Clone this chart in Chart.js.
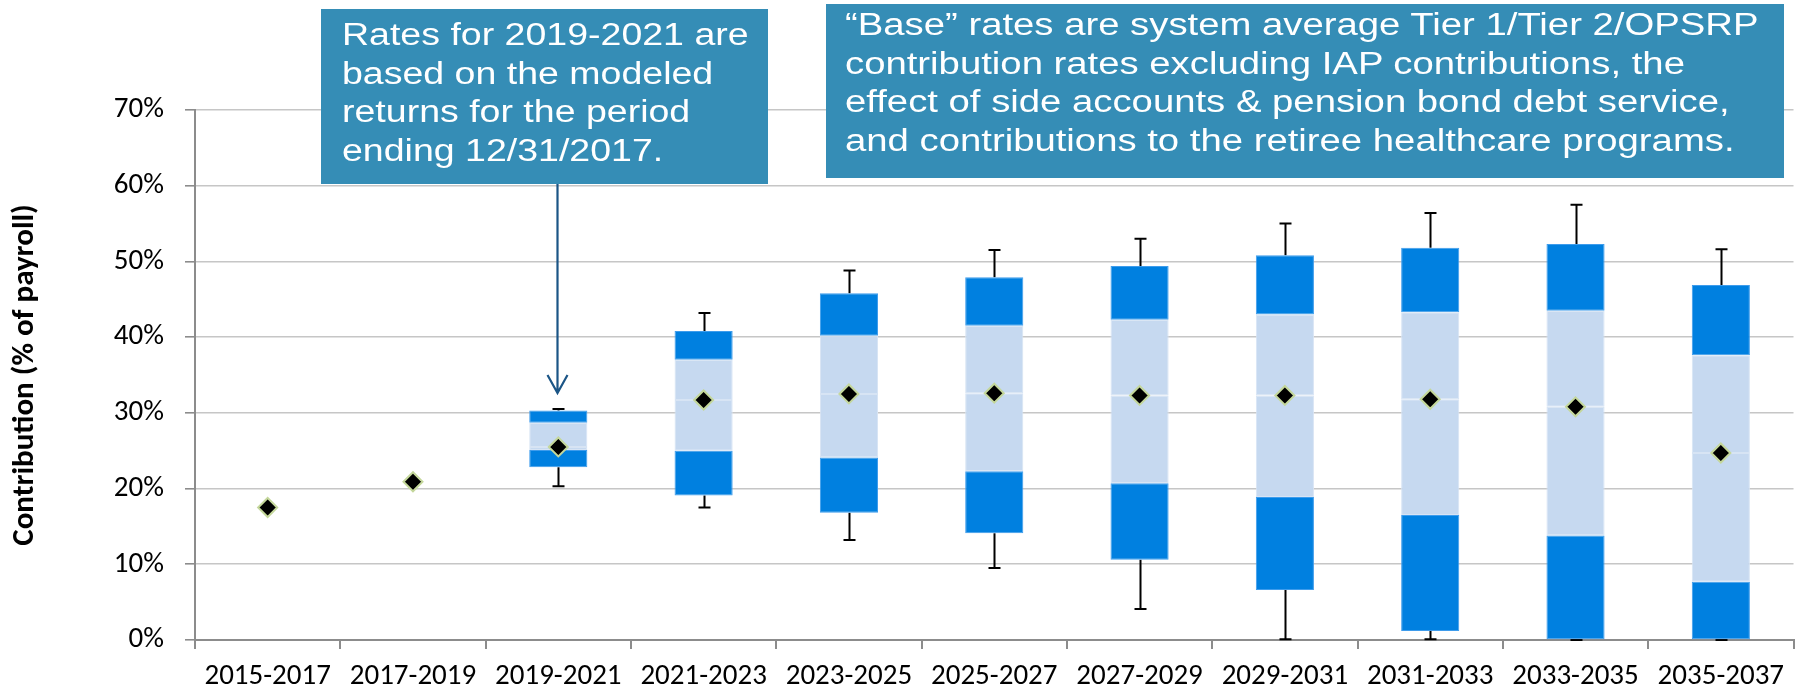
<!DOCTYPE html>
<html>
<head>
<meta charset="utf-8">
<script src="https://cdn.jsdelivr.net/npm/chart.js@4.4.1/dist/chart.umd.min.js"></script>
<style>
html,body{margin:0;padding:0;background:#fff;}
#wrap{position:relative;width:1805px;height:692px;overflow:hidden;background:#fff;}
#c{position:absolute;left:0;top:0;}
.note{position:absolute;background:#358DB6;color:#fff;font-family:"Liberation Sans",Arial,sans-serif;font-size:31px;line-height:38.6px;box-sizing:border-box;white-space:nowrap;}
.note span{display:block;transform-origin:0 0;}
#n1{left:321px;top:9px;width:447px;height:175px;padding:7px 0 0 21px;}
#n1 span{transform:scaleX(1.21);}
#n2{left:826px;top:4px;width:958px;height:174px;padding:2px 0 0 19px;}
#n2 span{transform:scaleX(1.235);}
</style>
</head>
<body>
<div id="wrap">
  <canvas id="c" width="1805" height="692"></canvas>
  <div class="note" id="n1"><span>Rates for 2019-2021 are<br>based on the modeled<br>returns for the period<br>ending 12/31/2017.</span></div>
  <div class="note" id="n2"><span>“Base” rates are system average Tier 1/Tier 2/OPSRP<br>contribution rates excluding IAP contributions, the<br>effect of side accounts &amp; pension bond debt service,<br>and contributions to the retiree healthcare programs.</span></div>
</div>
<script>
// ---- Data (percent of payroll) ----
const categories = ['2015-2017','2017-2019','2019-2021','2021-2023','2023-2025','2025-2027','2027-2029','2029-2031','2031-2033','2033-2035','2035-2037'];
const p5     = [null, null, 20.3, 17.5, 13.2,  9.5,  4.1,  0.1,  0.1,  0.0,  0.0];
const p10    = [null, null, 22.8, 19.1, 16.8, 14.1, 10.6,  6.6,  1.2,  0.0,  0.0];
const p25    = [null, null, 25.1, 25.0, 24.1, 22.3, 20.7, 18.9, 16.5, 13.8,  7.7];
const median = [17.5, 20.9, 25.5, 31.7, 32.5, 32.6, 32.3, 32.3, 31.8, 30.8, 24.7];
const p75    = [null, null, 28.7, 37.0, 40.2, 41.5, 42.3, 43.0, 43.3, 43.5, 37.6];
const p90    = [null, null, 30.3, 40.8, 45.8, 47.9, 49.4, 50.8, 51.8, 52.3, 46.9];
const p95    = [null, null, 30.5, 43.2, 48.8, 51.5, 53.0, 55.0, 56.4, 57.5, 51.6];
const yTicks = [0, 10, 20, 30, 40, 50, 60, 70];

const range = (a, b) => a.map((v, i) => (v == null || b[i] == null) ? null : [v, b[i]]);

const DARK = '#0080E0', DARK_EDGE = '#3E9CEC', LIGHT = '#C6D9F0', LIGHT_EDGE = '#D7E4F4';
const barCommon = {type:'bar', grouped:false, barPercentage:0.4, categoryPercentage:1.0, borderWidth:1, borderSkipped:false, order:2};
const FONT = 'Calibri, Carlito, Lato, sans-serif';

const whiskers = {
  id:'whiskers',
  beforeDatasetsDraw(chart){
    const {ctx, scales:{x, y}} = chart;
    ctx.save();
    ctx.strokeStyle = '#000';
    ctx.lineWidth = 2;
    const cap = 6;
    categories.forEach((c, i) => {
      if (p95[i] == null) return;
      const cx = Math.round(x.getPixelForValue(i)) + 0.5;
      const pairs = [[p90[i], p95[i]], [p10[i], p5[i]]];
      pairs.forEach(([from, to]) => {
        const y1 = y.getPixelForValue(from), y2 = y.getPixelForValue(to);
        ctx.beginPath();
        ctx.moveTo(cx, y1); ctx.lineTo(cx, y2);
        ctx.moveTo(cx - cap, y2); ctx.lineTo(cx + cap, y2);
        ctx.stroke();
      });
    });
    ctx.restore();
  },
  afterDraw(chart){
    // annotation arrow pointing at the 2019-2021 box
    const {ctx, scales:{x, y}} = chart;
    const ax = Math.round(x.getPixelForValue(2)) - 0.5;
    const tipY = y.getPixelForValue(p95[2]) - 16;
    ctx.save();
    ctx.strokeStyle = '#1B5586';
    ctx.lineWidth = 2.2;
    ctx.beginPath();
    ctx.moveTo(ax, 184); ctx.lineTo(ax, tipY);
    ctx.moveTo(ax - 10, tipY - 18); ctx.lineTo(ax, tipY); ctx.lineTo(ax + 10, tipY - 18);
    ctx.stroke();
    ctx.restore();
  }
};

new Chart(document.getElementById('c'), {
  data: {
    labels: categories,
    datasets: [
      {type:'line', label:'Median', data: median, showLine:false, order:0,
       pointStyle:'rectRot', pointRadius:9.5, pointHoverRadius:9.5, pointBorderWidth:2,
       pointBackgroundColor:'#000', pointBorderColor:'#C4D79B'},
      Object.assign({label:'10th-25th', data: range(p10, p25), backgroundColor: DARK, borderColor: DARK_EDGE}, barCommon),
      Object.assign({label:'25th-50th', data: range(p25, median), backgroundColor: LIGHT, borderColor: LIGHT_EDGE}, barCommon),
      Object.assign({label:'50th-75th', data: range(median, p75), backgroundColor: LIGHT, borderColor: LIGHT_EDGE}, barCommon),
      Object.assign({label:'75th-90th', data: range(p75, p90), backgroundColor: DARK, borderColor: DARK_EDGE}, barCommon)
    ]
  },
  options: {
    responsive:false,
    animation:false,
    devicePixelRatio:1,
    layout:{padding:{left:0, right:11, top:110, bottom:0}},
    plugins:{legend:{display:false}, tooltip:{enabled:false}},
    scales:{
      x:{
        offset:true,
        grid:{display:true, drawOnChartArea:false, drawTicks:true, tickLength:9, tickColor:'#8C8C8C', lineWidth:2, offset:true},
        border:{display:true, color:'#8C8C8C', width:2},
        ticks:{color:'#000', font:{family:FONT, size:29}, padding:10, maxRotation:0, autoSkip:false},
        afterFit(s){ s.height = 52; }
      },
      y:{
        min:0, max:70,
        afterBuildTicks(s){ s.ticks = yTicks.map(v => ({value:v})); },
        grid:{color:'#C6C6C6', lineWidth:1.6, tickLength:10, tickColor:'#8C8C8C'},
        border:{display:true, color:'#8C8C8C', width:2},
        ticks:{color:'#000', font:{family:FONT, size:29}, padding:21, callback:v => v + '%'},
        title:{display:true, text:'Contribution (% of payroll)', color:'#000',
               font:{family:FONT, size:31, weight:'bold'}, padding:{top:7, bottom:0}},
        afterFit(s){ s.width = 195; }
      }
    }
  },
  plugins:[whiskers]
});
</script>
</body>
</html>
